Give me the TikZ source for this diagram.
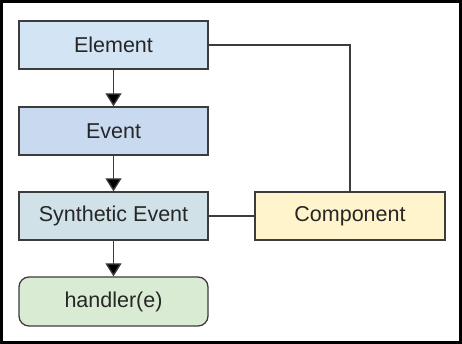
\documentclass[tikz,border=0pt]{standalone}
\usepackage{fontspec}
\setmainfont{Liberation Sans}
\usetikzlibrary{arrows.meta}
\definecolor{elemblue}{HTML}{D3E5F5}
\definecolor{eventblue}{HTML}{C9DAF0}
\definecolor{synthgrey}{HTML}{D0E2E8}
\definecolor{handgreen}{HTML}{DAEBD4}
\definecolor{compyellow}{HTML}{FFF4CB}
\definecolor{edgegrey}{HTML}{3C3C3C}
\tikzset{
	box/.style={draw=edgegrey, line width=1.3pt, minimum width=189pt, minimum height=48pt, inner sep=0pt, text=black!85, font=\fontsize{21.5}{25}\selectfont},
	flow/.style={draw=edgegrey, line width=1.3pt, -{Triangle[width=16pt,length=13pt,fill=black]}},
	link/.style={draw=edgegrey, line width=1.1pt}
}

\begin{document}
\begin{tikzpicture}[x=1pt, y=1pt]
		%%%%% START %%%%%
		\useasboundingbox (0, 0) rectangle (462, 344);
		\draw[line width=3pt] (1.5, 1.5) rectangle (460.5, 342.5);
		
		\node[box, fill=elemblue] (element) at (113.5, 299) {Element};
		\node[box, fill=eventblue] (event) at (113.5, 213) {Event};
		\node[box, fill=synthgrey] (synthetic) at (113.5, 128) {Synthetic Event};
		\node[box, fill=handgreen, rounded corners=10pt, minimum height=49pt] (handler) at (113.5, 42.5) {handler(e)};
		\node[box, fill=compyellow, minimum width=190pt] (component) at (350, 128) {Component};
		
		\draw[flow] (element) -- (event);
		\draw[flow] (event) -- (synthetic);
		\draw[flow] (synthetic) -- (handler);
		
		\draw[link] (element.east) -| (component.north);
		\draw[link] (synthetic) -- (component);
		%%%%% END %%%%%
	\end{tikzpicture}
\end{document}
